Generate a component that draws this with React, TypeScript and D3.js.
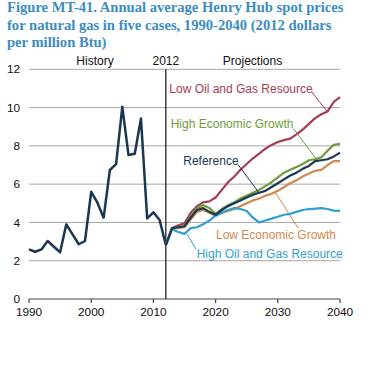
import React from "react";
import { scaleLinear, line, range } from "d3";

const width = 389;
const height = 369;

const titleLines = [
  "Figure MT-41. Annual average Henry Hub spot prices",
  "for natural gas in five cases, 1990-2040 (2012 dollars",
  "per million Btu)",
];

const historyYears = range(1990, 2013);
const historyValues = [
  2.59, 2.47, 2.59, 3.03, 2.73, 2.44, 3.9, 3.38, 2.86, 3.03, 5.6, 5.03, 4.25,
  6.74, 7.05, 10.04, 7.52, 7.59, 9.43, 4.21, 4.53, 4.13, 2.82,
];

const projYears = range(2012, 2041);
const lowOilGas = [
  2.82, 3.7, 3.85, 3.95, 4.5, 4.85, 5.05, 5.1, 5.3, 5.7, 6.1, 6.4, 6.75, 7.05,
  7.35, 7.6, 7.85, 8.05, 8.2, 8.3, 8.38, 8.6, 8.85, 9.15, 9.45, 9.65, 9.8,
  10.3, 10.55,
];
const highEcon = [
  2.82, 3.7, 3.75, 3.8, 4.3, 4.75, 4.9, 4.75, 4.45, 4.7, 4.9, 5.05, 5.25, 5.4,
  5.55, 5.7, 5.9, 6.1, 6.35, 6.6, 6.75, 6.9, 7.05, 7.25, 7.3, 7.4, 7.75, 8.05,
  8.1,
];
const reference = [
  2.82, 3.7, 3.75, 3.8, 4.25, 4.65, 4.75, 4.55, 4.4, 4.65, 4.85, 5.0, 5.15,
  5.3, 5.45, 5.55, 5.65, 5.85, 6.05, 6.25, 6.45, 6.6, 6.8, 6.95, 7.2, 7.25,
  7.3, 7.45, 7.65,
];
const lowEcon = [
  2.82, 3.7, 3.7, 3.75, 4.15, 4.55, 4.65, 4.5, 4.35, 4.5, 4.6, 4.7, 4.85, 5.0,
  5.15, 5.25, 5.4, 5.5, 5.65, 5.85, 6.05, 6.2, 6.4, 6.55, 6.7, 6.75, 7.0, 7.2,
  7.2,
];
const highOilGas = [
  2.82, 3.65, 3.5, 3.4, 3.7, 3.75, 3.9, 4.1, 4.35, 4.5, 4.65, 4.75, 4.7, 4.6,
  4.25, 4.0, 4.1, 4.2, 4.3, 4.4, 4.45, 4.55, 4.65, 4.7, 4.72, 4.75, 4.7, 4.62,
  4.6,
];

const yTicks = [0, 2, 4, 6, 8, 10, 12];
const xTicks = [1990, 2000, 2010, 2020, 2030, 2040];

// series + label placement (label/leader given in data units)
const cases = [
  {
    name: "Low Oil and Gas Resource",
    values: lowOilGas,
    color: "#a63d55",
    label: [2012.56, 11.0],
    leader: [[2035.45, 10.83], [2037.96, 9.78]],
  },
  {
    name: "High Economic Growth",
    values: highEcon,
    color: "#6e9e3c",
    label: [2012.78, 9.17],
    leader: [[2032.5, 8.91], [2036.25, 7.29]],
  },
  {
    name: "Low Economic Growth",
    values: lowEcon,
    color: "#d08a4c",
    label: [2020.06, 3.38],
    leader: [[2029.55, 5.6], [2033.3, 3.69]],
  },
  {
    name: "High Oil and Gas Resource",
    values: highOilGas,
    color: "#2e9fd2",
    label: [2016.96, 2.35],
    leader: [[2015.4, 3.39], [2016.85, 2.61]],
  },
  {
    name: "Reference",
    values: reference,
    color: "#1b3650",
    label: [2014.8, 7.22],
    leader: [[2023.65, 7.0], [2026.87, 5.6]],
  },
];

const x = scaleLinear().domain([1990, 2040]).range([29, 340]);
const y = scaleLinear().domain([0, 12]).range([299, 69.3]);

const lineGen = line<[number, number]>()
  .x((d) => x(d[0]))
  .y((d) => y(d[1]));

const font = "'Liberation Sans', Arial, sans-serif";

export default function App() {
  const histPts = historyYears.map((yr, i) => [yr, historyValues[i]] as [number, number]);
  return (
    <svg
      width={width}
      height={height}
      style={{ position: "absolute", left: 0, top: 0, background: "#fff" }}
      fontFamily={font}
    >
      {titleLines.map((t, i) => (
        <text
          key={i}
          x={7}
          y={12 + i * 17.5}
          fill="#3b8cc2"
          fontFamily="'Liberation Serif', 'Times New Roman', serif"
          fontWeight="bold"
          fontSize={14.6}
        >
          {t}
        </text>
      ))}

      {yTicks.slice(1).map((t) => (
        <line key={t} x1={x(1990)} x2={x(2040)} y1={y(t)} y2={y(t)} stroke="#a6a6a6" strokeWidth={1} />
      ))}
      {yTicks.map((t) => (
        <text key={t} x={20} y={y(t)} dy="0.35em" textAnchor="end" fontSize={11.8} fill="#111">
          {t}
        </text>
      ))}

      <line x1={x(1990)} x2={x(2040)} y1={y(0)} y2={y(0)} stroke="#444" strokeWidth={1.2} />
      {xTicks.map((t) => (
        <g key={t}>
          <line x1={x(t)} x2={x(t)} y1={y(0)} y2={y(0) + 4} stroke="#444" strokeWidth={1.2} />
          <text x={x(t)} y={y(0) + 17} textAnchor="middle" fontSize={11.8} fill="#111">
            {t}
          </text>
        </g>
      ))}

      <line x1={x(2012)} x2={x(2012)} y1={y(12)} y2={y(0)} stroke="#111" strokeWidth={1.2} />
      <text x={95} y={65} textAnchor="middle" fontSize={12} fill="#111">History</text>
      <text x={x(2012)} y={65} textAnchor="middle" fontSize={12} fill="#111">2012</text>
      <text x={252.5} y={65} textAnchor="middle" fontSize={12} fill="#111">Projections</text>

      <path d={lineGen(histPts) || ""} fill="none" stroke="#1b3650" strokeWidth={2.5} strokeLinejoin="round" />

      {cases.map((c) => (
        <g key={c.name}>
          <path
            d={lineGen(projYears.map((yr, i) => [yr, c.values[i]] as [number, number])) || ""}
            fill="none"
            stroke={c.color}
            strokeWidth={2.2}
            strokeLinejoin="round"
          />
          <line
            x1={x(c.leader[0][0])}
            y1={y(c.leader[0][1])}
            x2={x(c.leader[1][0])}
            y2={y(c.leader[1][1])}
            stroke={c.color}
            strokeWidth={1}
          />
          <text x={x(c.label[0])} y={y(c.label[1])} dy="0.35em" fontSize={12} fill={c.color}>
            {c.name}
          </text>
        </g>
      ))}
    </svg>
  );
}
